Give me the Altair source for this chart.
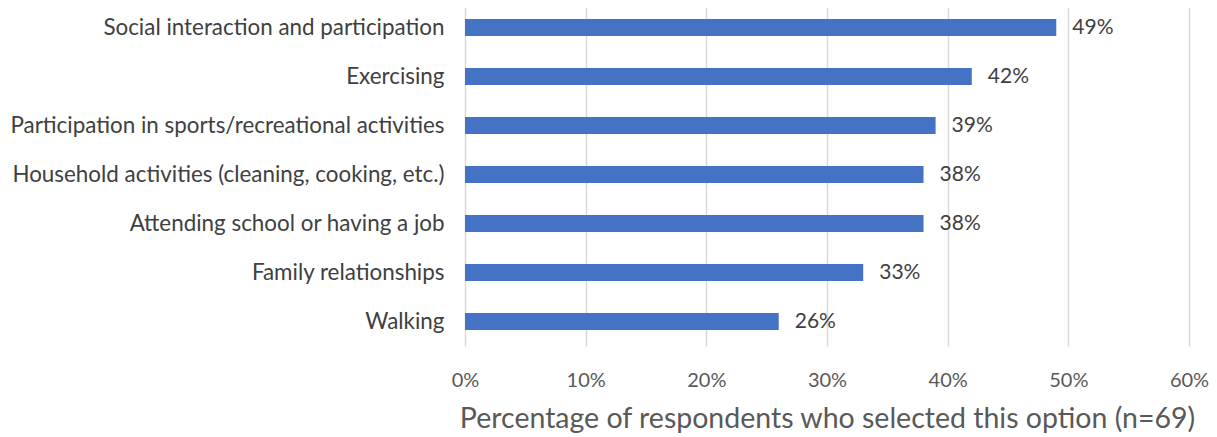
import altair as alt
import pandas as pd

categories = [
    "Social interaction and participation",
    "Exercising",
    "Participation in sports/recreational activities",
    "Household activities (cleaning, cooking, etc.)",
    "Attending school or having a job",
    "Family relationships",
    "Walking",
]
values = [49, 42, 39, 38, 38, 33, 26]

df = pd.DataFrame({"category": categories, "value": [v / 100 for v in values],
                   "label": [f"{v}%" for v in values]})

FONT = "Lato"
TXT = "#404040"

y_enc = alt.Y("category:N", sort=categories, title=None,
              scale=alt.Scale(paddingInner=0.65, paddingOuter=0.325),
              axis=alt.Axis(domain=False, ticks=False, labelFont=FONT, labelFontSize=22.4,
                            labelColor=TXT, labelPadding=21, labelLimit=0))
x_enc = alt.X("value:Q", scale=alt.Scale(domain=[0, 0.6]),
              title="Percentage of respondents who selected this option (n=69)",
              axis=alt.Axis(format=".0%", values=[0, 0.1, 0.2, 0.3, 0.4, 0.5, 0.6],
                            domain=False, ticks=False, grid=True, gridColor="#d9d9d9",
                            gridWidth=1.5, labelFont=FONT, labelFontSize=20, labelFlush=False,
                            labelColor="#595959", labelPadding=24, titleFont=FONT,
                            titleFontSize=28.5, titleFontWeight="normal", titleColor="#595959",
                            titlePadding=14))

bars = alt.Chart(df).mark_bar(color="#4472c4").encode(x=x_enc, y=y_enc)
text = alt.Chart(df).mark_text(align="left", dx=16, font=FONT, fontSize=21, color=TXT).encode(
    x="value:Q", y=alt.Y("category:N", sort=categories), text="label:N")

chart = (bars + text).properties(
    width=724, height=343,
    autosize=alt.AutoSizeParams(type="none"),
    padding={"left": 457, "top": -5, "right": 20, "bottom": 92},
).configure_view(stroke=None)

chart.save("out.html", embed_options={"renderer": "svg", "actions": False})
